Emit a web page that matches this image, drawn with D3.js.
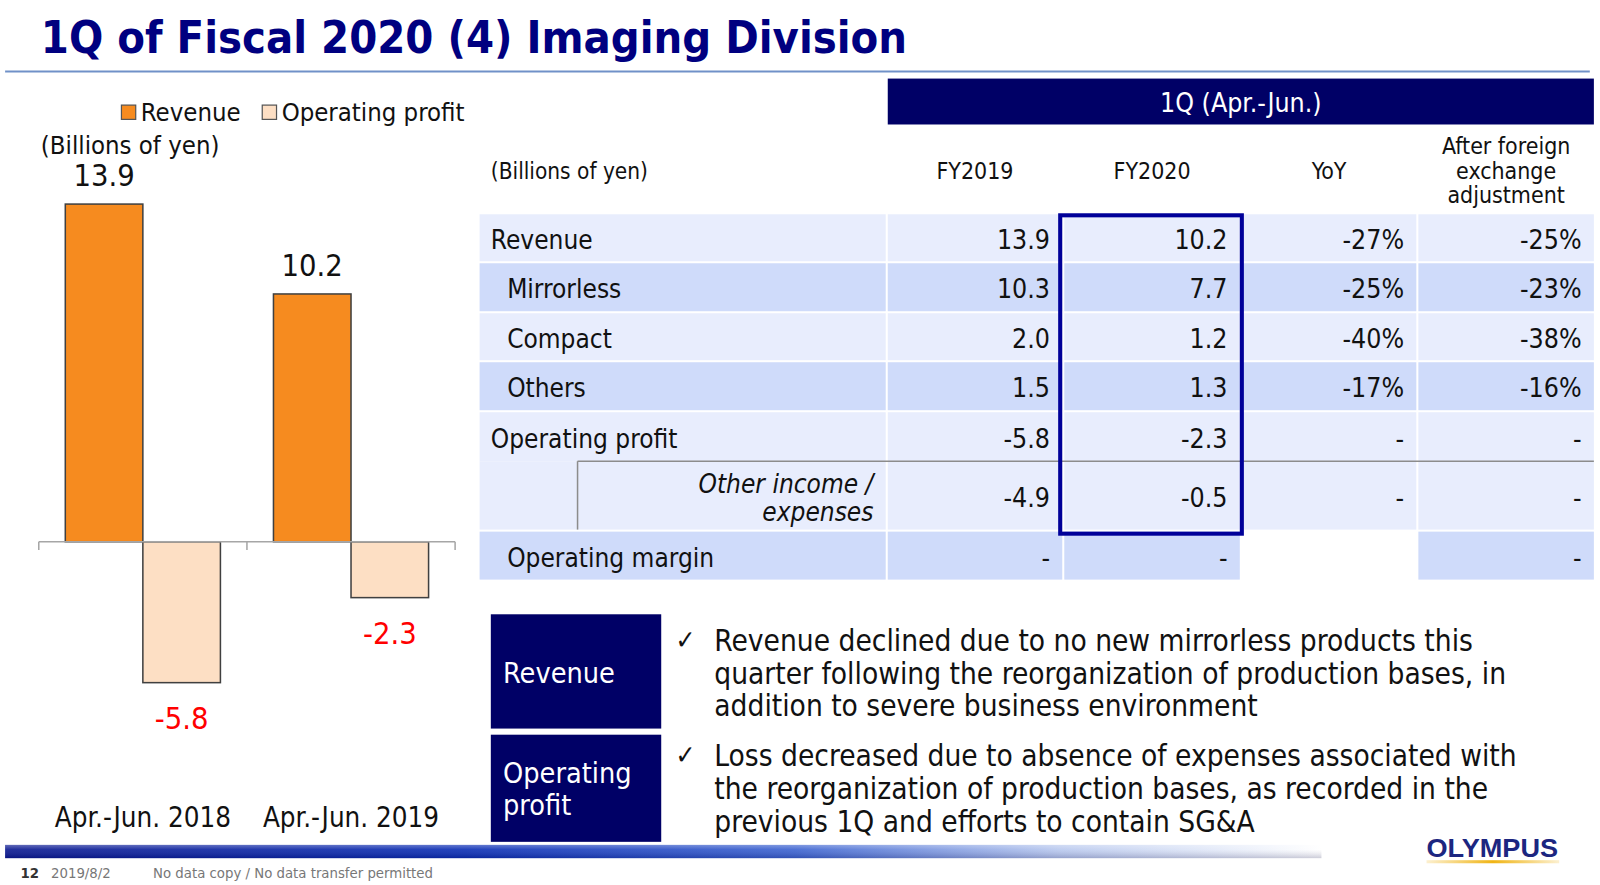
<!DOCTYPE html>
<html>
<head>
<meta charset="utf-8">
<script src="https://cdn.jsdelivr.net/npm/d3@7"></script>
<style>
  body { margin: 0; background: #fff; }
  svg { display: block; font-family: "DejaVu Sans Condensed", "DejaVu Sans", sans-serif; }
</style>
</head>
<body>
<svg id="slide" width="1600" height="885"></svg>
<script>
// chart data
var periods = ["Apr.-Jun. 2018", "Apr.-Jun. 2019"];
var revenue = [13.9, 10.2];
var opProfit = [-5.8, -2.3];

// table data
var rowLabels = ["Revenue", "Mirrorless", "Compact", "Others", "Operating profit", "Other income / expenses", "Operating margin"];
var fy2019 = ["13.9", "10.3", "2.0", "1.5", "-5.8", "-4.9", "-"];
var fy2020 = ["10.2", "7.7", "1.2", "1.3", "-2.3", "-0.5", "-"];
var yoy = ["-27%", "-25%", "-40%", "-17%", "-", "-", ""];
var fxAdj = ["-25%", "-23%", "-38%", "-16%", "-", "-", "-"];
var colHeads = ["FY2019", "FY2020", "YoY", "After foreign|exchange|adjustment"];

var revenueNotes = ["Revenue declined due to no new mirrorless products this",
    "quarter following the reorganization of production bases, in",
    "addition to severe business environment"];
var profitNotes = ["Loss decreased due to absence of expenses associated with",
    "the reorganization of production bases, as recorded in the",
    "previous 1Q and efforts to contain SG\u0026A"];

// slide was laid out on a 1568 px wide grid
var svg = d3.select("#slide").append("g").attr("transform", "scale(" + (1600 / 1568) + ")");
var defs = d3.select("#slide").append("defs");
var navy = "#000066";

// header
svg.append("text")
    .attr("x", 40).attr("y", 52)
    .attr("font-size", 44).attr("font-weight", "bold")
    .attr("fill", "#000080")
    .text("1Q of Fiscal 2020 (4) Imaging Division");
svg.append("line")
    .attr("x1", 5).attr("x2", 1558).attr("y1", 70).attr("y2", 70)
    .attr("stroke", "#7091c8").attr("stroke-width", 2);

// ---- bar chart ----
var y = d3.scaleLinear()
    .domain([d3.min(opProfit), d3.max(revenue)])
    .range([669, 200]);
var x0 = d3.scaleBand().domain(periods).range([38, 446]);
var x1 = d3.scaleBand().domain(["rev", "op"]).range([0, x0.bandwidth()]).paddingOuter(0.342);

var chart = svg.append("g");
var groups = chart.selectAll("g.period")
    .data(periods)
    .enter().append("g")
    .attr("class", "period")
    .attr("transform", function (d) { return "translate(" + x0(d) + ",0)"; });

groups.append("rect")
    .attr("x", x1("rev")).attr("width", x1.bandwidth())
    .attr("y", function (d, i) { return y(revenue[i]); })
    .attr("height", function (d, i) { return y(0) - y(revenue[i]); })
    .attr("fill", "#f68b1f").attr("stroke", "#404040").attr("stroke-width", 1.5);

groups.append("rect")
    .attr("x", x1("op")).attr("width", x1.bandwidth())
    .attr("y", y(0))
    .attr("height", function (d, i) { return y(opProfit[i]) - y(0); })
    .attr("fill", "#fddfc4").attr("stroke", "#404040").attr("stroke-width", 1.5);

// zero axis with ticks at band edges
chart.append("line")
    .attr("x1", x0.range()[0]).attr("x2", x0.range()[1])
    .attr("y1", y(0)).attr("y2", y(0))
    .attr("stroke", "#a6a6a6").attr("stroke-width", 1.5);
var edges = periods.map(function (d) { return x0(d); }).concat([x0.range()[1]]);
chart.selectAll("line.tick")
    .data(edges)
    .enter().append("line")
    .attr("class", "tick")
    .attr("x1", function (d) { return d; }).attr("x2", function (d) { return d; })
    .attr("y1", y(0)).attr("y2", y(0) + 8)
    .attr("stroke", "#a6a6a6").attr("stroke-width", 1.5);

groups.append("text")
    .attr("x", x1("rev") + x1.bandwidth() / 2)
    .attr("y", function (d, i) { return y(revenue[i]) - 18; })
    .attr("text-anchor", "middle").attr("font-size", 30).attr("fill", "#111")
    .text(function (d, i) { return revenue[i].toFixed(1); });

groups.append("text")
    .attr("x", x1("op") + x1.bandwidth() / 2)
    .attr("y", function (d, i) { return y(opProfit[i]) + 45; })
    .attr("text-anchor", "middle").attr("font-size", 30).attr("fill", "#ff0000")
    .text(function (d, i) { return opProfit[i].toFixed(1); });

groups.append("text")
    .attr("x", x0.bandwidth() / 2)
    .attr("y", 810)
    .attr("text-anchor", "middle").attr("font-size", 27).attr("fill", "#111")
    .text(function (d) { return d; });

// legend
var legend = svg.append("g").attr("font-size", 25).attr("fill", "#111");
[["Revenue", "#f68b1f", 119], ["Operating profit", "#fddfc4", 257]].forEach(function (l) {
    legend.append("rect").attr("x", l[2]).attr("y", 103).attr("width", 14).attr("height", 14)
        .attr("fill", l[1]).attr("stroke", "#555").attr("stroke-width", 1.2);
    legend.append("text").attr("x", l[2] + 19).attr("y", 119).text(l[0]);
});
svg.append("text").attr("x", 40).attr("y", 151).attr("font-size", 25).attr("fill", "#111")
    .text("(Billions of yen)");

// ---- table ----
var colX = [470, 870, 1043, 1217, 1390];
var colW = [398, 171, 172, 171, 172];
var rowY = [210, 258, 307, 355, 404, 452, 521];
var rowH = [46, 47, 46, 47, 48, 67, 47];
var light = "#e8edfd", dark = "#cfdbfa";
var rowFill = [light, dark, light, dark, light, light, dark];
var indent = [false, true, true, true, false, false, true];
var table = svg.append("g").attr("fill", "#111");

table.append("rect").attr("x", 870).attr("y", 77).attr("width", 692).attr("height", 45).attr("fill", navy);
table.append("text").attr("x", 1216).attr("y", 110).attr("text-anchor", "middle")
    .attr("font-size", 26).attr("fill", "#fff").text("1Q (Apr.-Jun.)");
table.append("text").attr("x", 481).attr("y", 175).attr("font-size", 22).text("(Billions of yen)");

colHeads.forEach(function (h, c) {
    var lines = h.split("|");
    var t = table.append("text")
        .attr("x", colX[c + 1] + colW[c + 1] / 2)
        .attr("y", lines.length > 1 ? 151 : 175)
        .attr("text-anchor", "middle").attr("font-size", 22.5);
    lines.forEach(function (s, k) {
        t.append("tspan").attr("x", colX[c + 1] + colW[c + 1] / 2).attr("dy", k ? 24 : 0).text(s);
    });
});

var cols = [null, fy2019, fy2020, yoy, fxAdj];
rowLabels.forEach(function (lab, r) {
    cols.forEach(function (col, c) {
        if (col && col[r] === "") return;
        table.append("rect")
            .attr("x", colX[c]).attr("y", rowY[r])
            .attr("width", colW[c]).attr("height", rowH[r])
            .attr("fill", rowFill[r]);
    });
    var mid = rowY[r] + rowH[r] / 2 + 11;
    if (r === 5) {
        var t = table.append("text").attr("text-anchor", "end").attr("font-style", "italic").attr("font-size", 25.5);
        t.append("tspan").attr("x", 856).attr("y", rowY[r] + 31).text("Other income /");
        t.append("tspan").attr("x", 856).attr("y", rowY[r] + 59).text("expenses");
    } else {
        table.append("text").attr("x", indent[r] ? 497 : 481).attr("y", mid)
            .attr("font-size", 25.5).text(lab);
    }
    cols.forEach(function (col, c) {
        if (!col) return;
        table.append("text").attr("x", colX[c] + colW[c] - 12).attr("y", mid)
            .attr("text-anchor", "end").attr("font-size", 26).text(col[r]);
    });
});

// bracket lines for the sub-row
table.append("line").attr("x1", 566).attr("x2", 1562).attr("y1", rowY[5]).attr("y2", rowY[5])
    .attr("stroke", "#8c8c8c").attr("stroke-width", 1.5);
table.append("line").attr("x1", 566).attr("x2", 566).attr("y1", rowY[5]).attr("y2", rowY[5] + rowH[5])
    .attr("stroke", "#8c8c8c").attr("stroke-width", 1.5);

// FY2020 highlight
table.append("rect").attr("x", 1039).attr("y", 211).attr("width", 178).attr("height", 312)
    .attr("fill", "none").attr("stroke", "#000099").attr("stroke-width", 4);

// ---- comment boxes ----
var notes = svg.append("g");
[[602, 112, ["Revenue"], revenueNotes, 669], [720, 105, ["Operating", "profit"], profitNotes, 767]].forEach(function (b, i) {
    notes.append("rect").attr("x", 481).attr("y", b[0]).attr("width", 167).attr("height", b[1]).attr("fill", navy);
    b[2].forEach(function (s, k) {
        notes.append("text").attr("x", 493).attr("y", b[4] + k * 32).attr("font-size", 28)
            .attr("fill", "#fff").text(s);
    });
    var top = i ? 751 : 638;
    notes.append("text").attr("x", 662).attr("y", top - 2).attr("font-size", 26).attr("fill", "#111").text("\u2713");
    b[3].forEach(function (s, k) {
        notes.append("text").attr("x", 700).attr("y", top + k * 32).attr("font-size", 29)
            .attr("fill", "#111").text(s);
    });
});

// ---- footer ----
var g = defs.append("linearGradient").attr("id", "band");
[[0, "#0a1890"], [0.35, "#0a2db4"], [0.6, "#3b62d0"], [0.8, "#b8c8ee"], [1, "#ffffff"]].forEach(function (s) {
    g.append("stop").attr("offset", s[0]).attr("stop-color", s[1]);
});
var gv = defs.append("linearGradient").attr("id", "shine").attr("x1", 0).attr("x2", 0).attr("y1", 0).attr("y2", 1);
[[0, "rgba(255,255,255,0.35)"], [0.35, "rgba(255,255,255,0.1)"], [1, "rgba(0,0,60,0.2)"]].forEach(function (s) {
    gv.append("stop").attr("offset", s[0]).attr("stop-color", s[1]);
});
svg.append("rect").attr("x", 5).attr("y", 828).attr("width", 1290).attr("height", 13).attr("fill", "url(#band)");
svg.append("rect").attr("x", 5).attr("y", 828).attr("width", 1290).attr("height", 13).attr("fill", "url(#shine)");

var foot = svg.append("g").attr("font-size", 14.5).attr("fill", "#777");
foot.append("text").attr("x", 20).attr("y", 860).attr("font-weight", "bold").attr("fill", "#333").text("12");
foot.append("text").attr("x", 50).attr("y", 860).text("2019/8/2");
foot.append("text").attr("x", 150).attr("y", 860).text("No data copy / No data transfer permitted");

svg.append("text").attr("x", 1398).attr("y", 840)
    .attr("font-family", "'Liberation Sans', Arial, sans-serif").attr("font-weight", "bold")
    .attr("font-size", 25).attr("fill", "#1c2680")
    .attr("textLength", 129).attr("lengthAdjust", "spacingAndGlyphs")
    .text("OLYMPUS");
var gold = defs.append("linearGradient").attr("id", "gold");
[[0, "rgba(240,180,20,0.2)"], [0.5, "#f0b414"], [1, "rgba(240,180,20,0.2)"]].forEach(function (s) {
    gold.append("stop").attr("offset", s[0]).attr("stop-color", s[1]);
});
svg.append("rect").attr("x", 1398).attr("y", 843).attr("width", 130).attr("height", 3).attr("fill", "url(#gold)");
</script>
</body>
</html>
